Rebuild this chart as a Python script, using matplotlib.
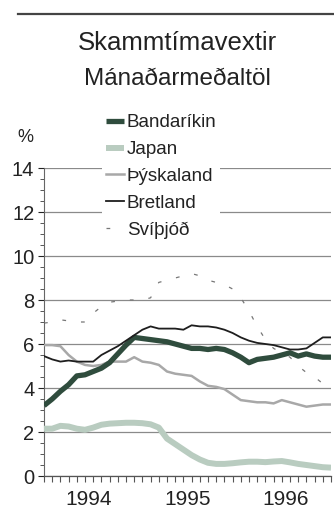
import matplotlib
matplotlib.use("Agg")
import matplotlib.pyplot as plt
import numpy as np
from matplotlib.ticker import MultipleLocator, FixedLocator

plt.rcParams['font.family'] = ['Liberation Sans', 'DejaVu Sans']

# Monthly averages, Jan 1994 - Dec 1996
months = np.arange(36)
year_labels = ['1994', '1995', '1996']
year_label_pos = [5.5, 17.5, 29.5]

bandarikin = [3.2, 3.5, 3.85, 4.15, 4.55, 4.6, 4.75, 4.9, 5.15, 5.55, 5.95, 6.3,
              6.25, 6.2, 6.15, 6.1, 6.0, 5.9, 5.8, 5.8, 5.75, 5.8, 5.75, 5.6,
              5.4, 5.15, 5.3, 5.35, 5.4, 5.5, 5.6, 5.45, 5.55, 5.45, 5.4, 5.4]
japan = [2.15, 2.15, 2.28, 2.25, 2.15, 2.1, 2.2, 2.33, 2.38, 2.4, 2.42, 2.42,
         2.4, 2.35, 2.2, 1.7, 1.45, 1.2, 0.95, 0.75, 0.6, 0.55, 0.55, 0.58,
         0.62, 0.65, 0.65, 0.63, 0.66, 0.68, 0.62, 0.55, 0.5, 0.45, 0.4, 0.38]
thyskaland = [5.95, 5.95, 5.9, 5.5, 5.2, 5.05, 5.0, 5.05, 5.2, 5.2, 5.2, 5.4,
              5.2, 5.15, 5.05, 4.75, 4.65, 4.6, 4.55, 4.3, 4.1, 4.05, 3.95, 3.7,
              3.45, 3.4, 3.35, 3.35, 3.3, 3.45, 3.35, 3.25, 3.15, 3.2, 3.25, 3.25]
bretland = [5.45, 5.3, 5.2, 5.25, 5.2, 5.2, 5.2, 5.5, 5.7, 5.9, 6.15, 6.4,
            6.65, 6.8, 6.7, 6.7, 6.7, 6.65, 6.85, 6.8, 6.8, 6.75, 6.65, 6.5,
            6.3, 6.15, 6.05, 6.0, 5.95, 5.85, 5.75, 5.75, 5.8, 6.05, 6.3, 6.3]
svithjod = [6.95, 7.0, 7.1, 7.05, 7.0, 7.0, 7.4, 7.7, 7.9, 7.95, 8.0, 8.0,
            8.0, 8.1, 8.8, 8.9, 9.0, 9.1, 9.2, 9.1, 8.9, 8.8, 8.7, 8.5,
            8.1, 7.5, 6.8, 6.2, 5.8, 5.6, 5.4, 5.0, 4.7, 4.5, 4.2, 4.0]

W, H = 334, 511
fig = plt.figure(figsize=(W / 100, H / 100), dpi=100)
fig.patch.set_facecolor('white')

ax = fig.add_axes([44 / W, 1 - 476 / H, (331 - 44) / W, (476 - 168) / H])

ax.plot(months, svithjod, color='#777777', lw=0.9, linestyle=(0, (3, 12)), zorder=2, label='Svíþjóð')
ax.plot(months, japan, color='#b9ccc0', lw=4.3, zorder=3, solid_capstyle='butt', label='Japan')
ax.plot(months, thyskaland, color='#a8a8a8', lw=1.8, zorder=4, label='Þýskaland')
ax.plot(months, bandarikin, color='#2f4c3d', lw=3.8, zorder=5, solid_capstyle='butt', label='Bandaríkin')
ax.plot(months, bretland, color='#1e1e1e', lw=1.3, zorder=6, label='Bretland')

ax.set_xlim(0, 35)
ax.set_ylim(0, 14)
ax.set_yticks(np.arange(0, 15, 2))
ax.yaxis.set_minor_locator(MultipleLocator(0.5))
ax.set_xticks(year_label_pos)
ax.set_xticklabels(year_labels)
ax.xaxis.set_minor_locator(FixedLocator(np.arange(0, 36, 1)))
ax.tick_params(axis='x', which='major', length=0, labelsize=15, pad=10, colors='#222222')
ax.tick_params(axis='x', which='minor', length=4, width=0.8, color='#555555', direction='out')
ax.tick_params(axis='y', which='major', length=4, width=0.8, labelsize=14.5, pad=3, colors='#222222')
ax.tick_params(axis='y', which='minor', length=3, width=0.7, color='#555555')

ax.grid(axis='y', which='major', color='#8a8a8a', lw=0.9, zorder=1)
ax.set_axisbelow(True)
for s in ['top', 'right']:
    ax.spines[s].set_visible(False)
ax.spines['left'].set_color('#666666')
ax.spines['bottom'].set_color('#555555')
ax.spines['left'].set_linewidth(0.8)
ax.spines['bottom'].set_linewidth(0.9)

handles, labels = ax.get_legend_handles_labels()
order = ['Bandaríkin', 'Japan', 'Þýskaland', 'Bretland', 'Svíþjóð']
hmap = dict(zip(labels, handles))
leg = ax.legend([hmap[k] for k in order], order, loc='upper left',
                bbox_to_anchor=(93 / W, 1 - 101 / H), bbox_transform=fig.transFigure,
                fontsize=13.5, frameon=True, facecolor='white', edgecolor='none', framealpha=1,
                handlelength=0.95, handletextpad=0.15, labelspacing=0.52, borderpad=0.2,
                fancybox=False)
leg.set_zorder(10)
for t in leg.get_texts():
    t.set_color('#222222')

# Top rule and titles
fig.add_artist(plt.Line2D([18 / W, 1.0], [1 - 14 / H, 1 - 14 / H], color='#444444', lw=1.6))
fig.text(177 / W, 1 - 43 / H, 'Skammtímavextir', ha='center', va='center', fontsize=18.5, color='#222222')
fig.text(177 / W, 1 - 79 / H, 'Mánaðarmeðaltöl', ha='center', va='center', fontsize=17.5, color='#222222')
fig.text(25 / W, 1 - 138 / H, '%', ha='center', va='center', fontsize=13, color='#222222')

fig.savefig('out.png', dpi=100, facecolor='white')
